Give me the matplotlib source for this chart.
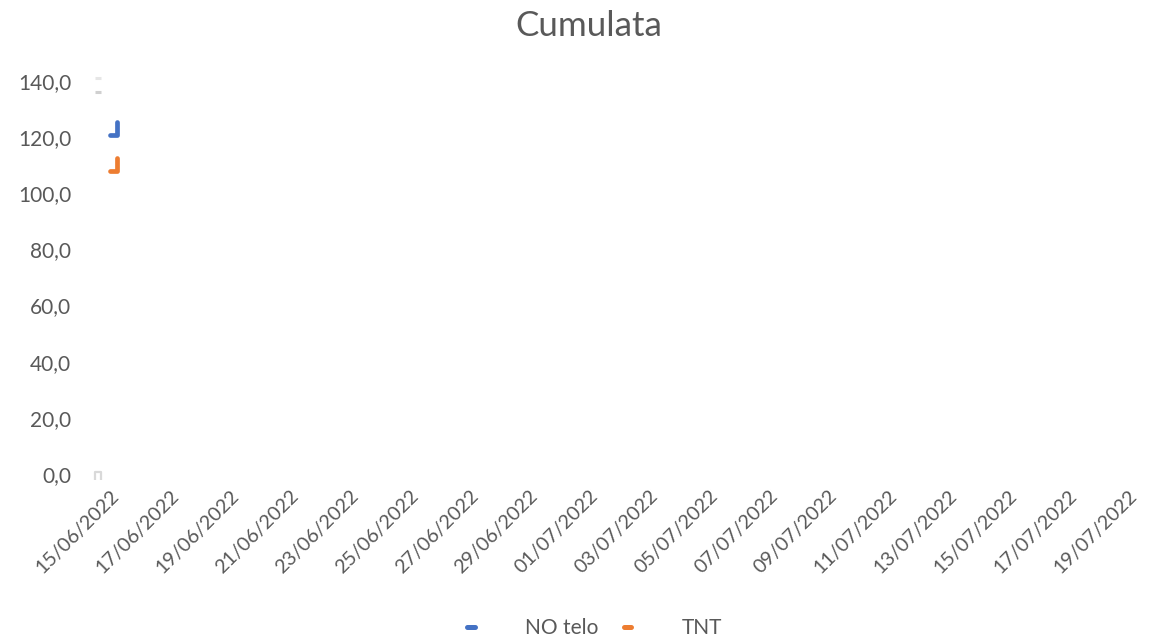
import matplotlib.pyplot as plt
import matplotlib.dates as mdates
import matplotlib.ticker as mticker
import pandas as pd

plt.rcParams['font.family'] = ['Lato', 'DejaVu Sans']

# cumulative series (timestamped readings)
no_telo_time = ["2022-06-15 00:00", "2022-06-15 06:00", "2022-06-15 06:00"]
no_telo_val = [120.9, 120.9, 125.3]
tnt_time = ["2022-06-15 00:00", "2022-06-15 06:00", "2022-06-15 06:00"]
tnt_val = [108.0, 108.0, 112.5]

# stray grey marks near the axis origin
grey_top_time = ["2022-06-14 12:00", "2022-06-14 16:30"]
grey_top_val = [141.1, 141.1]
grey_mid_val = [136.1, 136.1]
grey_low_time = ["2022-06-14 12:00", "2022-06-14 12:00", "2022-06-14 16:30", "2022-06-14 16:30"]
grey_low_val = [-2.1, 0.7, 0.7, -2.1]

x_start = "2022-06-14 12:00"
x_end = "2022-07-19 12:00"
tick_dates = pd.date_range("2022-06-15", "2022-07-19", freq="2D")

BLUE = "#4472c4"
ORANGE = "#ed7d31"
TXT = "#595959"
FS = 15

fig = plt.figure(figsize=(11.62, 6.44), dpi=100)
ax = fig.add_axes([95 / 1162, 1 - 474 / 644, (1143 - 95) / 1162, (474 - 81) / 644])

lw = 3.4
ax.plot(pd.to_datetime(no_telo_time), no_telo_val, color=BLUE, lw=lw,
        solid_capstyle="round", solid_joinstyle="round", label="NO telo")
ax.plot(pd.to_datetime(tnt_time), tnt_val, color=ORANGE, lw=lw,
        solid_capstyle="round", solid_joinstyle="round", label="TNT")

ax.plot(pd.to_datetime(grey_top_time), grey_top_val, color="#e6e6e6", lw=2.2,
        solid_capstyle="butt", clip_on=False)
ax.plot(pd.to_datetime(grey_top_time), grey_mid_val, color="#d0d0d0", lw=2.2,
        solid_capstyle="butt", clip_on=False)
ax.plot(pd.to_datetime(grey_low_time), grey_low_val, color="#d9d9d9", lw=1.6,
        solid_capstyle="butt", clip_on=False)

ax.set_xlim(pd.Timestamp(x_start), pd.Timestamp(x_end))
ax.set_ylim(0, 140)
ax.set_xticks(tick_dates)
ax.xaxis.set_major_formatter(mdates.DateFormatter("%d/%m/%Y"))
ax.yaxis.set_major_locator(mticker.MultipleLocator(20))
ax.yaxis.set_major_formatter(mticker.FuncFormatter(lambda v, p: f"{v:.1f}".replace(".", ",")))

for s in ax.spines.values():
    s.set_visible(False)
ax.tick_params(axis="both", length=0, colors=TXT)
ax.tick_params(axis="y", pad=17, labelsize=FS)
ax.tick_params(axis="x", pad=9.5, labelsize=14.2)
for lab in ax.get_yticklabels():
    lab.set_va("center_baseline")
for lab in ax.get_xticklabels():
    lab.set_rotation(45)
    lab.set_ha("right")
    lab.set_va("top")
    lab.set_rotation_mode("anchor")

fig.text(0.507, 1 - 26 / 644, "Cumulata", ha="center", va="center", fontsize=25.2, color=TXT)

leg = fig.legend(loc="center", bbox_to_anchor=(594.5 / 1162, 1 - 628 / 644), ncol=2, frameon=False,
                 handlelength=0.35, handletextpad=2.4, columnspacing=1.25, fontsize=FS)
for t in leg.get_texts():
    t.set_color(TXT)
for h in leg.get_lines():
    h.set_linewidth(3.6)
    h.set_solid_capstyle("round")

fig.savefig("out.png", dpi=100)
